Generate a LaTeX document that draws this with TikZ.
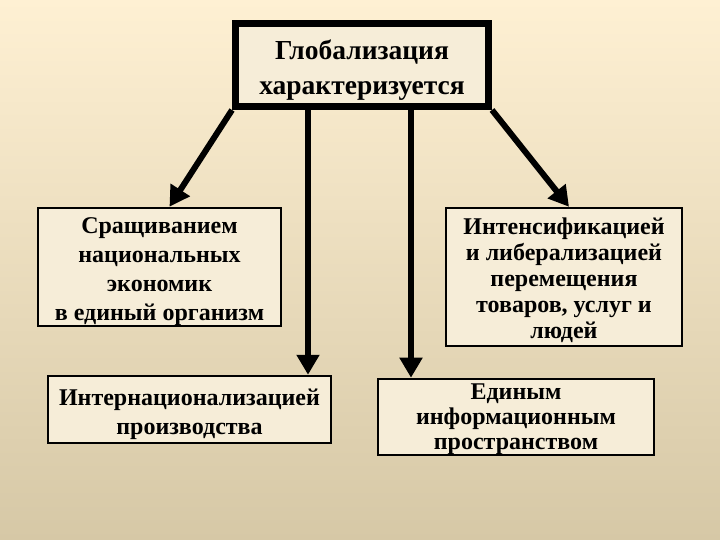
\documentclass[tikz,border=0pt]{standalone}
\usepackage{fontspec}
\setmainfont{Liberation Serif}
\usetikzlibrary{arrows.meta,positioning}
\usepackage{xcolor}
\definecolor{SlideTop}{HTML}{FEF0D3}
\definecolor{SlideMid}{HTML}{F3E8CD}
\definecolor{SlideLow}{HTML}{D6C8A6}
\definecolor{BoxFill}{HTML}{F6EDD8}
\newcommand{\liftline}[1][27pt]{\rule{0pt}{#1}}

\begin{document}
\begin{tikzpicture}[x=1pt,y=-1pt,
    box/.style={draw=black,fill=BoxFill,line width=2.5pt,align=center,inner sep=0pt,
      font=\bfseries\fontsize{24}{29}\selectfont},
    arr/.style={line width=6pt,-{Triangle[width=22pt,length=20pt]}}]
  \useasboundingbox (0,0) rectangle (720,540);
  \shade[top color=SlideTop,middle color=SlideMid,bottom color=SlideLow] (0,0) rectangle (720,540);
  \node[box,line width=7pt,minimum width=253pt,minimum height=83pt,
    font=\bfseries\fontsize{27.5}{35}\selectfont]
    (glob) at (362,65) {\liftline[30pt]Глобализация\\характеризуется};
  \node[box,minimum width=243pt,minimum height=118pt] (sraw) at (159.5,267)
    {\liftline[26pt]Сращиванием\\национальных\\экономик\\в единый организм};
  \node[box,minimum width=236pt,minimum height=138pt,
    font=\bfseries\fontsize{24}{26}\selectfont] (intens) at (564,277)
    {\liftline[24pt]Интенсификацией\\и либерализацией\\перемещения\\товаров, услуг и\\людей};
  \node[box,minimum width=283pt,minimum height=67pt] (intern) at (189.5,409.5)
    {\liftline Интернационализацией\\производства};
  \node[box,minimum width=276pt,minimum height=76pt,
    font=\bfseries\fontsize{24}{25}\selectfont] (edin) at (516,417)
    {\liftline[21pt]Единым\\информационным\\пространством};
  \draw[arr] (glob.south west) -- ([xshift=10pt]sraw.north);
  \draw[arr] (glob.south east) -- ([xshift=5pt]intens.north);
  \draw[arr] ([xshift=-54pt]glob.south) -- ([xshift=-54pt]glob.south |- intern.north);
  \draw[arr] ([xshift=49pt]glob.south) -- ([xshift=49pt]glob.south |- edin.north);
\end{tikzpicture}
\end{document}
